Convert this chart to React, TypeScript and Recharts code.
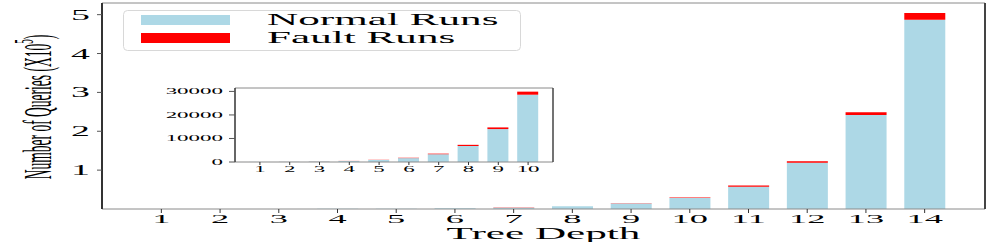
import { BarChart, Bar, XAxis, YAxis } from "recharts";

const depths = ["1", "2", "3", "4", "5", "6", "7", "8", "9", "10", "11", "12", "13", "14"];
const normalRuns = [40, 95, 190, 420, 850, 1650, 3300, 6800, 14000, 28600, 57000, 119000, 242000, 487000];
const faultRuns = [10, 15, 30, 40, 80, 150, 250, 500, 700, 1300, 3500, 4000, 7000, 17000];
const mainTicks = [100000, 200000, 300000, 400000, 500000];
const insetTicks = [0, 10000, 20000, 30000];
const insetCount = 10;

const data = depths.map((d, i) => ({ depth: d, normal: normalRuns[i], fault: faultRuns[i] }));
const insetData = data.slice(0, insetCount);

const SX = 2.7;
const FONT = '"Liberation Serif", "Times New Roman", serif';
const BLUE = "#ADD8E6";
const RED = "#FF0000";

function makeXTick(size: number) {
  return (props: any) => {
    const { x, y, payload } = props;
    return (
      <g transform={`translate(${x},${y})`}>
        <text transform={`scale(${SX},1)`} textAnchor="middle" dy="0.71em" fontSize={size} fontFamily={FONT} fill="#000">
          {payload.value}
        </text>
      </g>
    );
  };
}

function makeYTick(size: number, fmt: (v: number) => string) {
  return (props: any) => {
    const { x, y, payload } = props;
    return (
      <g transform={`translate(${x},${y})`}>
        <text transform={`scale(${SX},1)`} textAnchor="end" dy="0.355em" fontSize={size} fontFamily={FONT} fill="#000">
          {fmt(payload.value)}
        </text>
      </g>
    );
  };
}

function LegendBox() {
  const items = [
    { name: "Normal Runs", color: BLUE, y: 5, base: 15 },
    { name: "Fault Runs", color: RED, y: 23, base: 33 },
  ];
  return (
    <svg width={398} height={42} style={{ display: "block" }}>
      <rect x={0.5} y={0.5} width={397} height={40} rx={4} fill="#fff" fillOpacity={0.8} stroke="#d8d8d8" />
      {items.map((it) => (
        <g key={it.name}>
          <rect x={18} y={it.y} width={89} height={10} fill={it.color} />
          <text transform={`translate(144,${it.base}) scale(${SX},1)`} fontSize={16} fontFamily={FONT} fill="#000">
            {it.name}
          </text>
        </g>
      ))}
    </svg>
  );
}

function MainChart() {
  return (
    <BarChart width={997} height={242} data={data} margin={{ top: 2, right: 11, left: 0, bottom: 0 }}>
      <XAxis
        dataKey="depth"
        height={33}
        padding={{ left: 30, right: 31 }}
        tickSize={4}
        tickMargin={0}
        tick={makeXTick(13.5)}
        axisLine={{ stroke: "#8a8a8a" }}
        tickLine={{ stroke: "#333" }}
        label={{
          content: (p: any) => {
            const vb = p.viewBox;
            return (
              <text
                transform={`translate(${vb.x + vb.width / 2},${vb.y + 30}) scale(${SX},1)`}
                textAnchor="middle"
                fontSize={16}
                fontFamily={FONT}
                fill="#000"
              >
                Tree Depth
              </text>
            );
          },
        }}
      />
      <XAxis xAxisId="top" orientation="top" dataKey="depth" height={1} tick={false} tickLine={false} axisLine={{ stroke: "#8a8a8a" }} />
      <YAxis
        width={102}
        domain={[0, 530000]}
        ticks={mainTicks}
        tickSize={5}
        tickMargin={7}
        tick={makeYTick(14, (v) => String(v / 100000))}
        axisLine={{ stroke: "#333", strokeWidth: 2 }}
        tickLine={{ stroke: "#555" }}
        label={{
          content: () => (
            <text
              transform={`translate(51,107) scale(3,1) rotate(-90)`}
              textAnchor="middle"
              fontSize={13.5}
              fontFamily={FONT}
              fill="#000"
            >
              Number of Queries (X10
              <tspan dy={-6} fontSize={9}>5</tspan>
              <tspan dy={6}>)</tspan>
            </text>
          ),
        }}
      />
      <YAxis yAxisId="right" orientation="right" width={1} domain={[0, 530000]} tick={false} tickLine={false} axisLine={{ stroke: "#444", strokeWidth: 2 }} />
      <Bar dataKey="normal" stackId="a" fill={BLUE} barSize={41} isAnimationActive={false} />
      <Bar dataKey="fault" stackId="a" fill={RED} barSize={41} isAnimationActive={false} />
    </BarChart>
  );
}

function InsetChart() {
  return (
    <BarChart width={410} height={102} data={insetData} margin={{ top: 7, right: 6, left: 0, bottom: 0 }}>
      <XAxis
        dataKey="depth"
        height={20}
        padding={{ left: 10, right: 10 }}
        tickSize={3}
        tickMargin={1}
        tick={makeXTick(8.5)}
        axisLine={{ stroke: "#8a8a8a" }}
        tickLine={{ stroke: "#333" }}
      />
      <XAxis xAxisId="top" orientation="top" dataKey="depth" height={1} tick={false} tickLine={false} axisLine={{ stroke: "#8a8a8a" }} />
      <YAxis
        width={85}
        domain={[0, 31450]}
        ticks={insetTicks}
        tickSize={6}
        tickMargin={6}
        tick={makeYTick(8.5, (v) => String(v))}
        axisLine={{ stroke: "#333", strokeWidth: 1.5 }}
        tickLine={{ stroke: "#555" }}
      />
      <YAxis yAxisId="right" orientation="right" width={1} domain={[0, 31450]} tick={false} tickLine={false} axisLine={{ stroke: "#444", strokeWidth: 1.5 }} />
      <Bar dataKey="normal" stackId="a" fill={BLUE} barSize={21} isAnimationActive={false} />
      <Bar dataKey="fault" stackId="a" fill={RED} barSize={21} isAnimationActive={false} />
    </BarChart>
  );
}

export default function App() {
  return (
    <div style={{ position: "absolute", left: 0, top: 0, width: 997, height: 242, background: "#fff" }}>
      <MainChart />
      <div style={{ position: "absolute", left: 123, top: 10 }}>
        <LegendBox />
      </div>
      <div style={{ position: "absolute", left: 150, top: 80 }}>
        <InsetChart />
      </div>
    </div>
  );
}
